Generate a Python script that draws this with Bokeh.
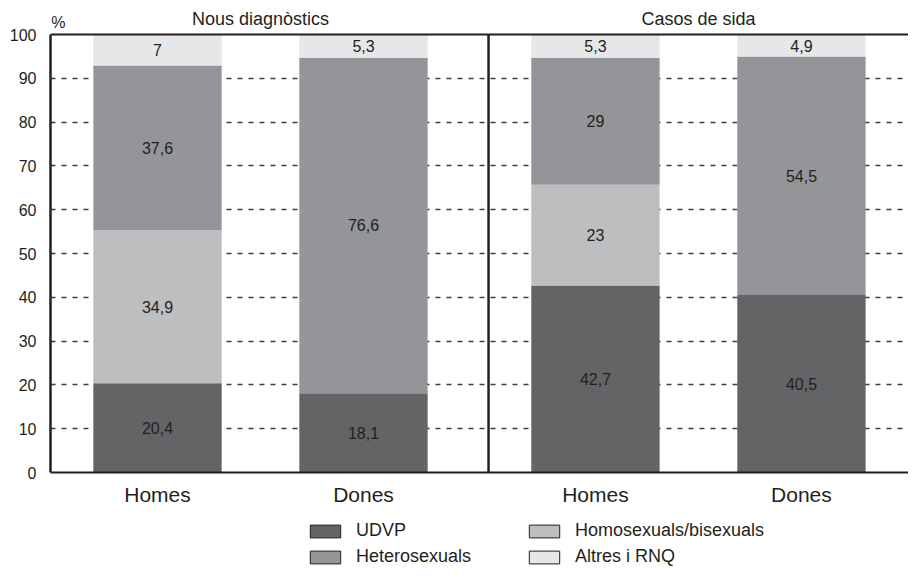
from bokeh.plotting import figure
from bokeh.models import Range1d, FixedTicker, Legend, LegendItem, ColumnDataSource
from bokeh.core.properties import value
from bokeh.embed import file_html
from bokeh.resources import INLINE

# ---- data ----
panels = ["Nous diagnòstics", "Casos de sida"]
categories = ["Homes", "Dones", "Homes", "Dones"]
series = ["UDVP", "Homosexuals/bisexuals", "Heterosexuals", "Altres i RNQ"]
udvp = [20.4, 18.1, 42.7, 40.5]
homo = [34.9, 0, 23, 0]
hetero = [37.6, 76.6, 29, 54.5]
altres = [7, 5.3, 5.3, 4.9]
y_ticks = [0, 10, 20, 30, 40, 50, 60, 70, 80, 90, 100]
legend_order = ["UDVP", "Heterosexuals", "Homosexuals/bisexuals", "Altres i RNQ"]

# ---- style / layout ----
colors = {"UDVP": "#636466", "Homosexuals/bisexuals": "#bcbec0",
          "Heterosexuals": "#939598", "Altres i RNQ": "#e6e7e8"}
TXT = "#231f20"
FONT = value("Liberation Sans")
x_pos = [0, 1, 2.126, 3.126]
bar_w = 0.623
divider_x = 1.607
W, H = 908, 567
px_per_unit = 4.38
frame_top_px, frame_bottom_px = 34, 472
y_top = 100 + frame_top_px / px_per_unit
y_bot = -(H - frame_bottom_px) / px_per_unit
x_start = -107 / 206
x_end = x_start + (W - 50) / 206

p = figure(width=W, height=H, output_backend="svg", toolbar_location=None,
           x_range=Range1d(x_start, x_end), y_range=Range1d(y_bot, y_top),
           min_border_left=50, min_border_right=0, min_border_top=0,
           min_border_bottom=0)
p.outline_line_color = None
p.background_fill_color = "white"
p.border_fill_color = "white"

src = ColumnDataSource(dict(x=x_pos, UDVP=udvp, **{"Homosexuals/bisexuals": homo},
                            Heterosexuals=hetero, **{"Altres i RNQ": altres}))
p.vbar_stack(series, x="x", width=bar_w, source=src,
             color=[colors[s] for s in series], line_color=None)

# segment labels
lx, ly, lt = [], [], []
stack_vals = [udvp, homo, hetero, altres]
for i, xp in enumerate(x_pos):
    base = 0
    for vals in stack_vals:
        v = vals[i]
        if v > 0:
            lx.append(xp)
            ly.append(base + v / 2)
            lt.append(f"{v:g}".replace(".", ","))
        base += v
p.text(x=lx, y=ly, text=lt, text_align="center", text_baseline="middle",
       text_font=FONT, text_font_size="16px", text_color=TXT)

# panel titles
title_x = [(x_pos[0] + x_pos[1]) / 2, (x_pos[2] + x_pos[3]) / 2]
title_y = 100 + 16 / px_per_unit
p.text(x=title_x, y=[title_y, title_y], text=panels, text_align="center",
       text_baseline="middle", text_font=FONT, text_font_size="18px", text_color=TXT)
p.text(x=[-0.481], y=[100 + 12.5 / px_per_unit], text=["%"], text_align="center",
       text_baseline="middle", text_font=FONT, text_font_size="16px", text_color=TXT)

# frame lines
p.segment(x0=[x_start], y0=[100], x1=[x_end], y1=[100], line_color=TXT, line_width=2)
p.segment(x0=[divider_x], y0=[0], x1=[divider_x], y1=[100], line_color=TXT, line_width=2.5)

# axes
yax = p.yaxis[0]
yax.ticker = FixedTicker(ticks=y_ticks)
yax.bounds = (0, 100)
yax.axis_line_width = 2.5
yax.axis_line_color = TXT
yax.major_tick_line_color = None
yax.minor_tick_line_color = None
yax.major_label_text_font = "Liberation Sans"
yax.major_label_text_font_size = "16px"
yax.major_label_text_color = TXT
yax.major_label_standoff = 8

xax = p.xaxis[0]
xax.fixed_location = 0
xax.ticker = FixedTicker(ticks=x_pos)
xax.major_label_overrides = {x_pos[i]: categories[i] for i in range(4)}
xax.axis_line_width = 2
xax.axis_line_color = TXT
xax.major_tick_line_color = None
xax.minor_tick_line_color = None
xax.major_label_text_font = "Liberation Sans"
xax.major_label_text_font_size = "21px"
xax.major_label_text_color = TXT
xax.major_label_standoff = 4

p.xgrid.grid_line_color = None
p.ygrid.ticker = FixedTicker(ticks=y_ticks[1:-1])
p.ygrid.grid_line_color = "#3d3d3d"
p.ygrid.grid_line_width = 1.5
p.ygrid.grid_line_dash = "5 6"

# legend (swatches with thin border, from hidden copies of the series)
items = []
for s in legend_order:
    r = p.vbar(x="x", top=s, width=bar_w, source=src, fill_color=colors[s],
               line_color=TXT, line_width=1, visible=False)
    items.append(LegendItem(label=s, renderers=[r]))
legend = Legend(items=items, location=(256, 0), ncols=2,
                glyph_width=38, glyph_height=16, label_height=16, label_width=164,
                label_standoff=12, spacing=5, padding=0, margin=0,
                border_line_color=None, background_fill_alpha=0,
                label_text_font="Liberation Sans", label_text_font_size="18px",
                label_text_color=TXT)
p.add_layout(legend, "center")

open("out.html", "w").write(file_html(p, INLINE))
